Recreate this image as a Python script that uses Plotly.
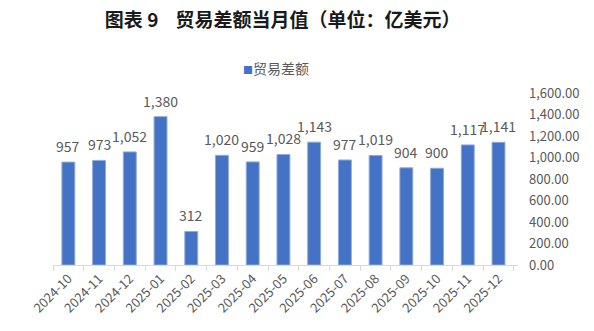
import plotly.graph_objects as go

months = ["2024-10", "2024-11", "2024-12", "2025-01", "2025-02", "2025-03", "2025-04",
          "2025-05", "2025-06", "2025-07", "2025-08", "2025-09", "2025-10", "2025-11", "2025-12"]
balance = [957, 973, 1052, 1380, 312, 1020, 959, 1028, 1143, 977, 1019, 904, 900, 1117, 1141]
series_name = "贸易差额"
title_text = "图表 9&nbsp;&nbsp;&nbsp;&nbsp;贸易差额当月值（单位：亿美元）"
y_ticks = [0, 200, 400, 600, 800, 1000, 1200, 1400, 1600]

FONT = "Noto Sans CJK SC"
GRAY = "#595959"
BLUE = "#4472C4"

fig = go.Figure()
fig.add_trace(go.Bar(
    x=months, y=balance, name=series_name,
    marker=dict(color=BLUE, line=dict(color="#8FAADC", width=1)),
    showlegend=False,
))

# value labels above each bar
for m, v in zip(months, balance):
    fig.add_annotation(
        x=m, y=v, text=f"{v:,}", showarrow=False,
        yanchor="bottom", yshift=4,
        font=dict(family=FONT, size=14, color=GRAY),
    )

# series key above the plot
fig.add_annotation(
    xref="paper", yref="paper", x=0.48, y=1.145, xanchor="center", yanchor="middle",
    text=f'<span style="color:{BLUE};font-size:10px">■</span>{series_name}',
    showarrow=False, font=dict(family=FONT, size=14, color=GRAY),
)

fig.update_layout(
    width=594, height=331,
    margin=dict(l=53, r=76, t=93, b=66),
    paper_bgcolor="white", plot_bgcolor="white",
    bargap=0.58,
    showlegend=False,
    title=dict(text="<b>" + title_text + "</b>", x=0.476, xanchor="center",
               y=0.94, yanchor="middle",
               font=dict(family=FONT, size=19, color="#1a1a1a")),
    font=dict(family=FONT, color=GRAY),
)
fig.update_xaxes(
    type="category", showgrid=False, showline=True, linecolor="#d9d9d9", linewidth=1,
    ticks="outside", ticklen=5, tickcolor="#d9d9d9", tickson="boundaries",
    tickangle=-45, tickfont=dict(family=FONT, size=13, color=GRAY),
)
fig.update_yaxes(
    side="right", range=[0, 1600], tickvals=y_ticks, tickformat=",.2f",
    showgrid=False, zeroline=False, showline=False,
    tickfont=dict(family=FONT, size=13, color=GRAY), ticklabelstandoff=10,
)

fig.write_html("out.html")
